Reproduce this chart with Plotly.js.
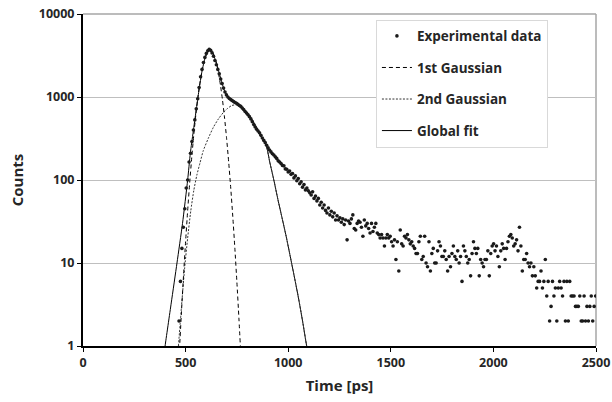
<!DOCTYPE html>
<html><head><meta charset="utf-8">
<script src="https://cdn.plot.ly/plotly-3.0.1.min.js"></script>
<style>html,body{margin:0;padding:0;background:#fff;} #chart{width:612px;height:402px;}</style>
</head><body><div id="chart"></div>
<script>
// Experimental data: TCSPC histogram, first channel time and channel width (ps)
const binStart = 468;
const binWidth = 7;
const expCounts = [
  2, 6, 15, 27, 45, 80, 100, 165, 210, 290,
  400, 530, 720, 950, 1300, 1750, 2150, 2600, 3000, 3350,
  3600, 3750, 3650, 3400, 3100, 2750, 2450, 2150, 1900, 1650,
  1450, 1280, 1150, 1060, 1000, 960, 930, 905, 880, 860,
  840, 815, 790, 770, 735, 705, 670, 640, 610, 580,
  545, 505, 465, 435, 410, 390, 370, 345, 320, 300,
  282, 262, 245, 230, 218, 207, 200, 190, 182, 170,
  165, 158, 150, 148, 136, 135, 125, 128, 117, 120,
  106, 112, 98, 104, 90, 95, 82, 88, 76, 80,
  74, 70, 66, 72, 60, 64, 56, 60, 50, 54,
  46, 50, 43, 40, 46, 38, 42, 36, 40, 33,
  37, 33, 35, 31, 34, 29, 33, 19, 32, 30,
  34, 38, 26, 25, 30, 32, 31, 27, 21, 33,
  28, 30, 26, 23, 30, 24, 27, 30, 23, 22,
  20, 22, 20, 16, 20, 22, 20, 21, 18, 16,
  19, 11, 18, 8, 25, 17, 16, 21, 20, 22,
  19, 17, 18, 16, 15, 13, 13, 18, 21, 11,
  12, 21, 10, 9, 18, 8, 13, 15, 10, 10,
  14, 18, 16, 12, 12, 14, 11, 8, 12, 9,
  13, 16, 12, 11, 14, 10, 12, 6, 16, 14,
  12, 10, 11, 7, 13, 18, 15, 13, 15, 7,
  11, 10, 9, 11, 11, 14, 7, 13, 16, 17,
  14, 16, 12, 9, 14, 17, 15, 11, 15, 18,
  21, 22, 20, 16, 17, 19, 14, 27, 16, 8,
  11, 11, 13, 10, 9, 10, 7, 9, 7, 5,
  6, 6, 8, 5, 6, 11, 4, 6, 2, 3,
  6, 4, 5, 2, 5, 6, 5, 4, 6, 2,
  6, 2, 6, 4, 4, 4, 3, 3, 3, 4,
  2, 2, 4, 2, 3, 2, 3, 4, 2, 3, 4
];

// 1st Gaussian (dashed)
const g1Time = [470,480,490,500,510,520,530,540,550,560,570,580,590,600,610,619,630,640,650,660,670,680,690,700,710,720,730,740,750,760,770];
const g1Counts = [0.89,2.61,7.14,18.1,42.6,93.0,188,354,616,997,1494,2079,2684,3214,3570,3680,3517,3119,2565,1958,1386,911,555,314,164,80.0,36.1,15.1,5.86,2.12,0.71];

// 2nd Gaussian (dotted)
const g2Time = [465,480,495,510,525,540,555,570,586,610,635,660,685,705,725,745,765,790,815,840,865,880,895,910,930,950,970,990,1010,1030,1050,1070,1090,1100];
const g2Counts = [1,3,8.5,20,42,75,115,160,225,315,430,545,655,730,790,805,780,690,580,455,345,300,250,165,100,58,35,21,12,6.8,3.8,2,1,0.75];

// Global fit (solid)
const fitTime = [395,400,430,458,485,510,523,537,551,565,580,595,608,619,630,645,660,675,690,705,720,740,765,790,815,840,865,880,895,910,930,950,970,990,1010,1030,1050,1070,1090,1100];
const fitCounts = [0.8,1,3.3,10,30,100,210,380,680,1200,2050,2950,3500,3700,3500,2800,2100,1550,1180,1010,940,870,790,690,580,455,345,300,250,165,100,58,35,21,12,6.8,3.8,2,1,0.75];

const xTicks = [0, 500, 1000, 1500, 2000, 2500];
const yTicks = [1, 10, 100, 1000, 10000];
const yTickText = ['1', '10', '100', '1000', '10000'];

const expTime = expCounts.map((_, i) => binStart + i * binWidth);

const fontFam = '"Open Sans", "DejaVu Sans", sans-serif';
const traces = [
  {x: fitTime, y: fitCounts, mode: 'lines', name: 'Global fit', legendgroup: 'd', legendrank: 4,
   line: {color: '#000', width: 1, shape: 'spline', smoothing: 0.6}},
  {x: g2Time, y: g2Counts, mode: 'lines', name: '2nd Gaussian', legendgroup: 'c', legendrank: 3,
   line: {color: '#333', width: 1, dash: '2px,1.5px', shape: 'spline', smoothing: 0.6}},
  {x: g1Time, y: g1Counts, mode: 'lines', name: '1st Gaussian', legendgroup: 'b', legendrank: 2,
   line: {color: '#000', width: 1, dash: '4px,3px', shape: 'spline', smoothing: 0.6}},
  {x: expTime, y: expCounts, mode: 'markers', name: 'Experimental data', legendgroup: 'a', legendrank: 1,
   marker: {color: '#1a1a1a', size: 3.6}}
];

const layout = {
  width: 612, height: 402,
  margin: {l: 83, r: 16, t: 14, b: 56},
  paper_bgcolor: '#fff', plot_bgcolor: '#fff',
  font: {family: fontFam, color: '#262626'},
  showlegend: true,
  legend: {
    x: 0.571, y: 0.983, xanchor: 'left', yanchor: 'top',
    bgcolor: '#fff', bordercolor: '#d9d9d9', borderwidth: 1,
    font: {family: fontFam, size: 13.5, weight: 'bold', color: '#262626'},
    traceorder: 'grouped', tracegroupgap: 11
  },
  xaxis: {
    range: [0, 2500], tickvals: xTicks, showgrid: false, zeroline: false,
    showline: true, linecolor: '#000', linewidth: 2,
    ticks: 'outside', ticklen: 4, tickwidth: 1, tickcolor: '#000',
    tickfont: {family: fontFam, size: 12.5, weight: 'bold', color: '#262626'},
    title: {text: 'Time [ps]', font: {family: fontFam, size: 15, weight: 'bold', color: '#262626'}, standoff: 10}
  },
  yaxis: {
    type: 'log', range: [0, 4], tickvals: yTicks, ticktext: yTickText,
    showgrid: true, gridcolor: '#bfbfbf', gridwidth: 1, zeroline: false,
    showline: true, linecolor: '#000', linewidth: 2,
    ticks: 'outside', ticklen: 4, tickwidth: 1, tickcolor: '#000',
    tickfont: {family: fontFam, size: 12.5, weight: 'bold', color: '#262626'},
    title: {text: 'Counts', font: {family: fontFam, size: 15, weight: 'bold', color: '#262626'}, standoff: 12}
  },
  shapes: [
    {type: 'line', xref: 'paper', yref: 'paper', x0: 0, x1: 1, y0: 1, y1: 1, line: {color: '#a6a6a6', width: 1.5}, layer: 'below'},
    {type: 'line', xref: 'paper', yref: 'paper', x0: 1, x1: 1, y0: 0, y1: 1, line: {color: '#a6a6a6', width: 1.5}, layer: 'below'}
  ]
};

Plotly.newPlot('chart', traces, layout, {staticPlot: true, displayModeBar: false});
</script></body></html>
